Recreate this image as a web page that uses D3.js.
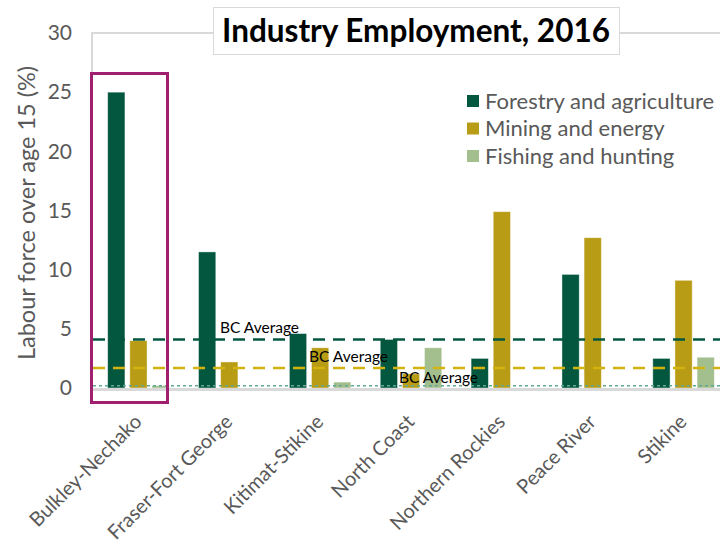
<!DOCTYPE html>
<html>
<head>
<meta charset="utf-8">
<script src="https://d3js.org/d3.v7.min.js"></script>
<style>
  body { margin: 0; background: #fff; }
  svg { display: block; font-family: Lato, "Open Sans", sans-serif; }
</style>
</head>
<body>
<script>
// regions and values
const regions = ["Bulkley-Nechako", "Fraser-Fort George", "Kitimat-Stikine", "North Coast",
                 "Northern Rockies", "Peace River", "Stikine"];
const seriesNames = ["Forestry and agriculture", "Mining and energy", "Fishing and hunting"];
const forestry = [25.0, 11.5, 4.6, 4.1, 2.5, 9.6, 2.5];
const mining   = [4.0, 2.2, 3.4, 1.2, 14.9, 12.7, 9.1];
const fishing  = [0.2, 0, 0.5, 3.4, 0, 0, 2.6];
const bcAverage = [4.1, 1.7, 0.2];
const yTicks = [0, 5, 10, 15, 20, 25, 30];
const colours = ["#03573f", "#b99c16", "#a4bf8e"];

const W = 720, H = 548;
const svg = d3.select("body").append("svg").attr("width", W).attr("height", H);

// scales
const x = d3.scaleBand().domain(regions).range([93, 729]);
const xs = d3.scaleBand().domain(d3.range(3)).range([0, 61.5]).paddingInner(0.22);
const y = d3.scaleLinear().domain([0, 30]).range([388, 33]);
const bandOffset = (x.bandwidth() - 61.5) / 2;

// frame lines (top + left)
svg.append("path")
  .attr("d", "M92," + y(0) + "V" + y(30) + "H" + W)
  .attr("fill", "none").attr("stroke", "#d9d9d9").attr("stroke-width", 2);

// y axis tick labels
const yAxis = svg.append("g").attr("transform", "translate(72,0)")
  .call(d3.axisLeft(y).tickValues(yTicks).tickSize(0).tickPadding(0));
yAxis.select(".domain").remove();
yAxis.selectAll("text").attr("font-size", 21).attr("fill", "#595959")
  .attr("font-family", "Lato, sans-serif");

svg.append("text")
  .attr("transform", "translate(35,213) rotate(-90)")
  .attr("text-anchor", "middle")
  .attr("font-size", 23.5).attr("fill", "#595959")
  .text("Labour force over age 15 (%)");

// bars
const series = [forestry, mining, fishing];
series.forEach(function(vals, s) {
  svg.append("g").selectAll("rect")
    .data(vals)
    .join("rect")
    .attr("x", function(d, i) { return x(regions[i]) + bandOffset + xs(s); })
    .attr("y", function(d) { return y(d); })
    .attr("width", xs.bandwidth())
    .attr("height", function(d) { return y(0) - y(d); })
    .attr("fill", colours[s])
    .attr("stroke", "#ffffff").attr("stroke-opacity", 0.5).attr("stroke-width", 0.8);
});

// baseline
svg.append("line")
  .attr("x1", 92).attr("x2", W).attr("y1", y(0) + 1.5).attr("y2", y(0) + 1.5)
  .attr("stroke", "#d9d9d9").attr("stroke-width", 3);

// BC average lines
svg.append("line").attr("x1", 93).attr("x2", W)
  .attr("y1", y(bcAverage[0])).attr("y2", y(bcAverage[0]))
  .attr("stroke", colours[0]).attr("stroke-width", 2.5).attr("stroke-dasharray", "12,8");
svg.append("line").attr("x1", 93).attr("x2", W)
  .attr("y1", y(bcAverage[1])).attr("y2", y(bcAverage[1]))
  .attr("stroke", "#d4b210").attr("stroke-width", 2.5).attr("stroke-dasharray", "12,8");
svg.append("line").attr("x1", 93).attr("x2", W)
  .attr("y1", y(bcAverage[2])).attr("y2", y(bcAverage[2]))
  .attr("stroke", "#5fa893").attr("stroke-width", 1.5).attr("stroke-dasharray", "3,3");

// BC Average labels
const avgLabelPos = [[220, 333], [309, 362], [399, 383]];
avgLabelPos.forEach(function(p) {
  svg.append("text").attr("x", p[0]).attr("y", p[1])
    .attr("font-size", 15.5).attr("fill", "#000")
    .text("BC Average");
});

// highlight box
svg.append("rect")
  .attr("x", 91.5).attr("y", 73.5).attr("width", 76).attr("height", 329)
  .attr("fill", "none").attr("stroke", "#a0206f").attr("stroke-width", 3);

// x labels
svg.append("g").selectAll("text")
  .data(regions)
  .join("text")
  .attr("transform", function(d) {
    return "translate(" + (x(d) + x.bandwidth() / 2 + 4.5) + ",423) rotate(-45)";
  })
  .attr("text-anchor", "end")
  .attr("font-size", 20).attr("fill", "#595959")
  .text(function(d) { return d; });

// legend
const legend = svg.append("g").selectAll("g")
  .data(seriesNames)
  .join("g")
  .attr("transform", function(d, i) { return "translate(467," + (101 + i * 27.5) + ")"; });
legend.append("rect").attr("x", 0).attr("y", -6).attr("width", 12).attr("height", 12)
  .attr("fill", function(d, i) { return colours[i]; });
legend.append("text").attr("x", 18).attr("dy", "0.35em")
  .attr("font-size", 22).attr("fill", "#595959")
  .text(function(d) { return d; });

// title box
svg.append("rect")
  .attr("x", 213.5).attr("y", 7.5).attr("width", 406).attr("height", 47)
  .attr("fill", "#fff").attr("stroke", "#d9d9d9").attr("stroke-width", 1);
svg.append("text")
  .attr("x", 416).attr("y", 42)
  .attr("text-anchor", "middle")
  .attr("font-size", 31.5).attr("font-weight", "bold").attr("fill", "#000")
  .text("Industry Employment, 2016");
</script>
</body>
</html>
